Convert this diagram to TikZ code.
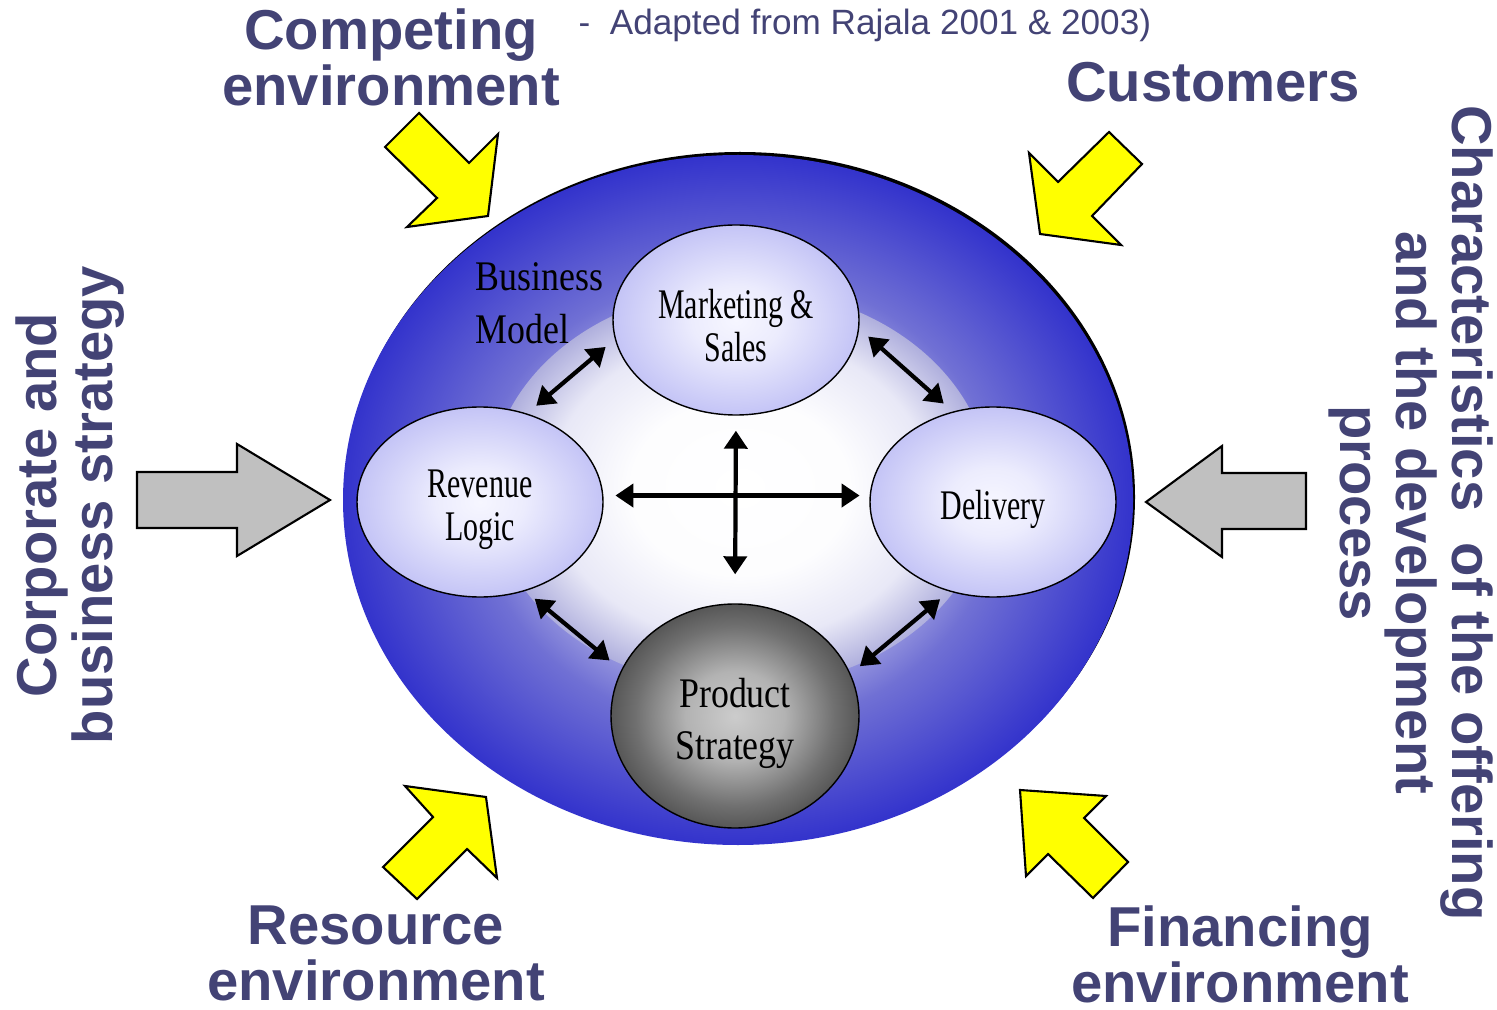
\documentclass[tikz,border=0pt]{standalone}
\usepackage{fontspec}
\setmainfont{Liberation Serif}
\newfontfamily\envfont{Liberation Sans}
\newfontfamily\ovalfont[FakeStretch=0.71]{Liberation Serif}
\newfontfamily\bmfont[FakeStretch=0.85]{Liberation Serif}
\usetikzlibrary{shapes.geometric,arrows.meta}

\definecolor{envText}{HTML}{434375}
\definecolor{arrowYellow}{HTML}{FFFF00}
\definecolor{arrowGrey}{HTML}{C0C0C0}
\definecolor{bmBlue}{HTML}{3333CC}
\definecolor{bmDeep}{HTML}{7070D4}
\definecolor{bmMid}{HTML}{C8C8EC}
\definecolor{bmCore}{HTML}{E4E4F4}
\definecolor{bmHalo}{HTML}{AFAFDD}
\definecolor{ovalEdge}{HTML}{C4C4F6}
\definecolor{ovalCore}{HTML}{F6F6FF}

% disc, inner halo, the three light ovals and the grey one
% (25bp is the rim of the shaded path)
\pgfdeclareradialshading{bmOuter}{\pgfpoint{0bp}{0bp}}{color(0bp)=(bmCore); color(10bp)=(bmMid); color(16.5bp)=(bmDeep); color(25bp)=(bmBlue); color(50bp)=(bmBlue)}
\pgfdeclareradialshading{bmInner}{\pgfpoint{0bp}{0bp}}{color(0bp)=(white); color(11bp)=(white!96!bmMid); color(19bp)=(white!70!bmMid!90!bmHalo); color(25bp)=(bmHalo); color(50bp)=(bmHalo)}
\pgfdeclareradialshading{ovalShade}{\pgfpoint{0bp}{0bp}}{color(0bp)=(ovalCore); color(9bp)=(ovalCore!80!ovalEdge); color(25bp)=(ovalEdge); color(50bp)=(ovalEdge)}
\pgfdeclareradialshading{prodShade}{\pgfpoint{0bp}{0bp}}{color(0bp)=(black!20); color(10bp)=(black!30); color(20bp)=(black!56); color(25bp)=(black!66); color(50bp)=(black!66)}

\begin{document}
\begin{tikzpicture}[
  x=0.1mm, y=-0.1mm,
  % --- block arrows pushing on the disc
  blockYellow/.style={draw=black, line width=0.6pt, fill=arrowYellow},
  blockGrey/.style={draw=black, line width=0.6pt, fill=arrowGrey},
  % --- business model components
  oval/.style={ellipse, draw=black, line width=0.4pt, shade, shading=ovalShade,
    minimum width=24.6mm, minimum height=19mm, inner sep=0pt, align=center,
    font=\ovalfont\fontsize{12}{12.3}\selectfont},
  prodOval/.style={oval, shading=prodShade, minimum width=24.8mm, minimum height=22.4mm,
    font=\bmfont\fontsize{12}{14.8}\selectfont},
  % strut that drops the text a little below the centre
  textDrop/.style={execute at begin node={\rule{0pt}{#1}}},
  link/.style={{Triangle[length=1.8mm,width=2.3mm]}-{Triangle[length=1.8mm,width=2.3mm]},
    line width=1.2pt, shorten <=1.2mm, shorten >=1.2mm},
  envLabel/.style={text=envText, font=\envfont\bfseries\fontsize{16}{16}\selectfont,
    align=center, inner sep=0pt},
]
\useasboundingbox (0,0) rectangle (1497,1010);

%========================
% Disc (shadow, body, light halo)
%========================
\fill[black] (740,497) ellipse [x radius=395, y radius=345];
\shade[shading=bmOuter] (738,500) ellipse [x radius=395, y radius=345];
\shade[shading=bmInner] (740,488) ellipse [x radius=250, y radius=200];

\node[anchor=north west, inner sep=0pt, align=left,
  font=\bmfont\fontsize{12}{15}\selectfont] (bmTitle) at (475,262) {Business\\Model};

% the four components
\node[oval, textDrop=24pt] (mktSales) at (736,320) {Marketing \&\\Sales};
\node[oval, textDrop=24.5pt] (revLogic) at (480,502) {Revenue\\Logic};
\node[oval, textDrop=12.6pt] (delivery) at (993,502) {Delivery};
\node[prodOval, textDrop=27.6pt] (prodStrat) at (735,716) {Product\\Strategy};

% links between components
\draw[link] (revLogic.62) -- (mktSales.189);
\draw[link] (mktSales.-4) -- (delivery.114);
\draw[link, shorten >=1.5mm] (revLogic.-63) -- (prodStrat.158);
\draw[link] (delivery.-116) -- (prodStrat.20);
\draw[link, shorten <=1.2mm, shorten >=1mm] (revLogic.3) -- (delivery.177);
\draw[link, shorten <=1.5mm, shorten >=2.9mm] (mktSales.south) -- (prodStrat.north);

%========================
% Surrounding influences
%========================
\draw[blockYellow] (419,113) -- (469,163) -- (498,134) -- (488,216) -- (407,227) -- (437,198) -- (385,147) -- cycle;
\draw[blockYellow] (1109,132) -- (1142,164) -- (1092,216) -- (1121,245) -- (1040,234) -- (1029,153) -- (1058,182) -- cycle;
\draw[blockYellow] (405,786) -- (486,797) -- (497,878) -- (467,849) -- (417,899) -- (383,867) -- (433,817) -- cycle;
\draw[blockYellow] (1020,790) -- (1106,796) -- (1084,818) -- (1128,862) -- (1093,898) -- (1048,854) -- (1026,876) -- cycle;
\draw[blockGrey] (137,472) -- (237,472) -- (237,444) -- (330,500) -- (237,556) -- (237,528) -- (137,528) -- cycle;
\draw[blockGrey] (1306,473) -- (1222,473) -- (1222,446) -- (1146,502) -- (1222,557) -- (1222,529) -- (1306,529) -- cycle;

\node[envLabel, anchor=north] (compEnv) at (391,8) {Competing\\environment};
\node[envLabel, anchor=base] (customers) at (1213,102) {Customers};
\node[envLabel, anchor=north] (resEnv) at (376,905) {Resource\\environment};
\node[envLabel, anchor=north] (finEnv) at (1240,905) {Financing\\environment};
\node[envLabel, anchor=north, rotate=90] (corpStrat) at (15,505) {Corporate and\\business strategy};
\node[envLabel, anchor=north, rotate=-90] (offering) at (1494,513)
  {Characteristics~ of the offering\\and the development\\process};

% source note
\node[anchor=base west, inner sep=0pt, text=envText, font=\envfont\fontsize{10}{12}\selectfont]
  (srcNote) at (578,35) {-~ Adapted from Rajala 2001 \& 2003)};

\end{tikzpicture}
\end{document}
